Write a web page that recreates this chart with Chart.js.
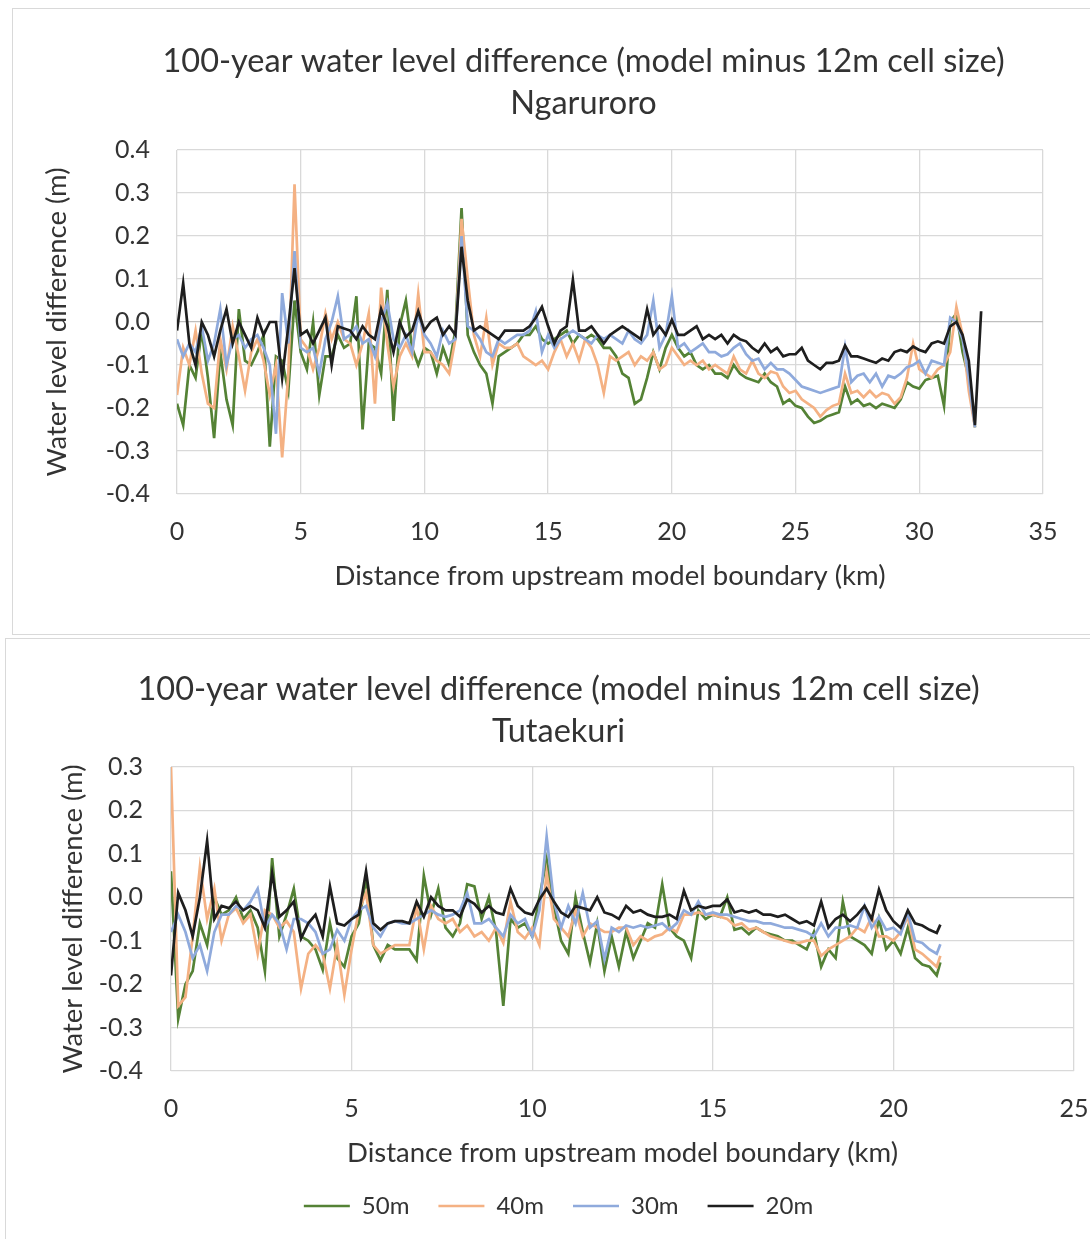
<!DOCTYPE html>
<html>
<head>
<meta charset="UTF-8">
<title>100-year water level difference</title>
<script src="https://cdn.jsdelivr.net/npm/chart.js@4"></script>
<style>
  body {
    margin: 0;
    background: #fff;
    width: 1090px;
    height: 1239px;
    overflow: hidden;
    position: relative;
  }
  .frame {
    position: absolute;
    border: 1px solid #d9d9d9;
    box-sizing: border-box;
  }
  canvas {
    position: absolute;
  }
</style>
</head>
<body>
  <div class="frame" style="left:12px; top:8px; width:1200px; height:627px;"></div>
  <canvas id="ngChart" width="1143" height="624" style="left:12px; top:8px;"></canvas>

  <div class="frame" style="left:5px; top:638px; width:1200px; height:700px;"></div>
  <canvas id="tuChart" width="1107" height="601" style="left:5px; top:638px;"></canvas>

<script>
// Series shared by both charts
const seriesNames = ['50m', '40m', '30m', '20m'];
const seriesColors = ['#548235', '#f4b183', '#8faadc', '#1e1e1e'];

// Ngaruroro - distance (km) and water level difference (m)
const ngDist = [0,0.25,0.5,0.75,1,1.25,1.5,1.75,2,2.25,2.5,2.75,3,3.25,3.5,3.75,4,4.25,4.5,4.75,
  5,5.25,5.5,5.75,6,6.25,6.5,6.75,7,7.25,7.5,7.75,8,8.25,8.5,8.75,9,9.25,9.5,9.75,
  10,10.25,10.5,10.75,11,11.25,11.5,11.75,12,12.25,12.5,12.75,13,13.25,13.5,13.75,14,14.25,14.5,14.75,
  15,15.25,15.5,15.75,16,16.25,16.5,16.75,17,17.25,17.5,17.75,18,18.25,18.5,18.75,19,19.25,19.5,19.75,
  20,20.25,20.5,20.75,21,21.25,21.5,21.75,22,22.25,22.5,22.75,23,23.25,23.5,23.75,24,24.25,24.5,24.75,
  25,25.25,25.5,25.75,26,26.25,26.5,26.75,27,27.25,27.5,27.75,28,28.25,28.5,28.75,29,29.25,29.5,29.75,
  30,30.25,30.5,30.75,31,31.25,31.5,31.75,32,32.25,32.5];

const ng50 = [-0.19,-0.24,-0.10,-0.13,-0.02,-0.13,-0.27,-0.07,-0.18,-0.24,0.03,-0.09,-0.10,-0.07,-0.03,-0.29,
  -0.08,-0.09,-0.16,0.05,-0.07,-0.11,0.0,-0.17,-0.08,-0.08,-0.03,-0.06,-0.05,0.06,-0.25,-0.05,
  -0.06,-0.12,0.075,-0.23,-0.01,0.05,-0.06,-0.10,-0.06,
  -0.07,-0.12,-0.06,-0.10,-0.02,0.265,-0.03,-0.07,-0.10,-0.12,-0.19,-0.08,-0.07,-0.06,-0.05,-0.03,
  -0.03,-0.01,-0.04,-0.05,-0.04,-0.03,-0.02,-0.05,-0.03,-0.04,-0.03,-0.04,-0.06,-0.06,-0.08,-0.12,
  -0.13,-0.19,-0.18,-0.13,-0.07,-0.11,-0.06,-0.03,
  -0.06,-0.08,-0.07,-0.10,-0.11,-0.10,-0.12,-0.12,-0.13,-0.10,-0.12,-0.13,-0.135,-0.14,-0.12,-0.14,
  -0.15,-0.19,-0.18,-0.195,-0.20,-0.22,-0.235,-0.23,-0.22,-0.215,-0.21,-0.15,-0.19,-0.18,-0.195,-0.19,
  -0.20,-0.19,-0.195,-0.20,-0.18,-0.14,-0.15,-0.155,-0.135,-0.13,-0.125,-0.195,0.0,0.02,-0.07,-0.13,
  -0.245,null];

const ng40 = [-0.17,-0.06,-0.10,-0.02,-0.12,-0.19,-0.20,-0.04,-0.11,-0.01,-0.08,-0.16,-0.07,-0.04,-0.09,-0.17,
  -0.10,-0.315,-0.12,0.32,-0.04,-0.06,-0.11,-0.06,0.02,-0.04,0.0,-0.04,-0.05,-0.10,-0.05,0.02,
  -0.19,0.08,-0.05,-0.15,-0.08,-0.05,-0.08,0.065,-0.07,
  -0.07,-0.09,-0.10,-0.12,-0.04,0.24,0.10,-0.03,-0.08,0.01,-0.10,-0.05,-0.06,-0.06,-0.05,-0.08,
  -0.09,-0.10,-0.09,-0.11,-0.07,-0.04,-0.08,-0.05,-0.09,-0.04,-0.06,-0.10,-0.165,-0.08,-0.09,-0.08,
  -0.07,-0.10,-0.08,-0.09,-0.07,-0.11,-0.10,-0.06,
  -0.08,-0.10,-0.09,-0.10,-0.09,-0.11,-0.10,-0.11,-0.12,-0.08,-0.11,-0.12,-0.09,-0.12,-0.13,-0.115,
  -0.12,-0.15,-0.165,-0.16,-0.18,-0.19,-0.20,-0.22,-0.205,-0.195,-0.19,-0.12,-0.165,-0.16,-0.175,-0.16,
  -0.175,-0.165,-0.17,-0.19,-0.175,-0.13,-0.05,-0.11,-0.12,-0.13,-0.11,-0.10,-0.07,0.035,-0.03,-0.16,
  -0.245,null];

const ng30 = [-0.04,-0.08,-0.05,-0.07,-0.01,-0.09,-0.05,0.03,-0.10,-0.04,-0.03,-0.06,-0.04,-0.03,-0.06,-0.10,
  -0.26,0.067,-0.05,0.165,-0.06,-0.07,-0.06,-0.12,-0.04,0.0,0.06,-0.04,-0.03,-0.01,-0.05,-0.04,
  -0.08,0.0,0.045,-0.04,-0.06,-0.03,-0.07,0.02,-0.03,
  -0.05,-0.08,-0.02,-0.05,-0.04,0.20,-0.01,-0.02,-0.04,-0.07,-0.08,-0.04,-0.05,-0.04,-0.03,-0.03,
  -0.02,0.025,-0.07,-0.03,-0.06,-0.04,-0.03,-0.02,-0.03,-0.04,-0.05,-0.03,-0.04,-0.03,-0.04,-0.05,
  -0.02,-0.04,-0.05,-0.03,0.05,-0.06,-0.03,0.06,
  -0.06,-0.05,-0.07,-0.06,-0.05,-0.07,-0.07,-0.08,-0.075,-0.06,-0.05,-0.075,-0.09,-0.085,-0.11,-0.095,
  -0.11,-0.11,-0.12,-0.135,-0.15,-0.155,-0.16,-0.165,-0.16,-0.155,-0.15,-0.057,-0.14,-0.125,-0.12,-0.14,
  -0.12,-0.15,-0.125,-0.13,-0.12,-0.105,-0.10,-0.09,-0.12,-0.09,-0.095,-0.10,0.01,0.0,-0.04,-0.13,
  -0.245,null];

const ng20 = [-0.02,0.09,-0.05,-0.10,0.0,-0.03,-0.08,-0.02,0.03,-0.05,0.0,-0.03,-0.06,0.01,-0.03,0.0,
  0.0,-0.13,-0.01,0.125,-0.03,-0.02,-0.05,-0.02,0.01,-0.10,-0.01,-0.015,-0.02,-0.04,-0.01,-0.03,
  -0.04,0.03,-0.01,-0.07,0.0,-0.035,-0.02,0.025,-0.02,
  0.0,0.01,-0.03,-0.01,-0.03,0.175,0.05,-0.02,-0.01,-0.02,-0.03,-0.04,-0.02,-0.02,-0.02,-0.02,
  -0.01,0.01,0.035,-0.01,-0.05,-0.02,-0.01,0.098,-0.02,-0.02,-0.01,-0.03,-0.05,-0.03,-0.02,-0.01,
  -0.02,-0.03,-0.04,0.03,-0.03,-0.01,-0.03,0.005,
  -0.03,-0.03,-0.02,-0.01,-0.04,-0.03,-0.04,-0.03,-0.05,-0.03,-0.04,-0.045,-0.06,-0.07,-0.05,-0.07,
  -0.06,-0.08,-0.075,-0.075,-0.06,-0.09,-0.10,-0.11,-0.095,-0.095,-0.09,-0.055,-0.08,-0.08,-0.085,-0.09,
  -0.095,-0.085,-0.09,-0.07,-0.065,-0.07,-0.057,-0.065,-0.07,-0.05,-0.045,-0.05,-0.01,0.0,-0.03,-0.09,
  -0.24,0.025];

// Tutaekuri - distance (km) and water level difference (m)
const tuDist = [0,0.2,0.4,0.6,0.8,1,1.2,1.4,1.6,1.8,2,2.2,2.4,2.6,2.8,3,3.2,3.4,3.6,3.8,
  4,4.2,4.4,4.6,4.8,5,5.2,5.4,5.6,5.8,6,6.2,6.4,6.6,6.8,7,7.2,7.4,7.6,7.8,
  8,8.2,8.4,8.6,8.8,9,9.2,9.4,9.6,9.8,10,10.2,10.4,10.6,10.8,11,11.2,11.4,11.6,11.8,
  12,12.2,12.4,12.6,12.8,13,13.2,13.4,13.6,13.8,14,14.2,14.4,14.6,14.8,15,15.2,15.4,15.6,15.8,
  16,16.2,16.4,16.6,16.8,17,17.2,17.4,17.6,17.8,18,18.2,18.4,18.6,18.8,19,19.2,19.4,19.6,19.8,
  20,20.2,20.4,20.6,20.8,21,21.2,21.3];

const tu50 = [0.06,-0.28,-0.20,-0.17,-0.06,-0.11,0.0,-0.04,-0.03,0.0,-0.05,-0.03,-0.07,-0.17,0.09,
  -0.09,-0.04,0.02,-0.09,-0.10,-0.12,-0.167,-0.06,-0.14,-0.16,-0.09,-0.06,0.045,-0.11,-0.145,
  -0.11,-0.12,-0.12,-0.12,-0.145,0.05,-0.04,0.02,-0.07,-0.09,-0.06,0.03,0.025,-0.05,0.0,
  -0.08,-0.25,-0.05,-0.07,-0.06,-0.09,0.0,0.087,-0.02,-0.10,-0.13,0.0,-0.08,-0.15,-0.06,
  -0.17,-0.09,-0.16,-0.08,-0.14,-0.10,-0.06,-0.07,0.03,-0.07,-0.09,-0.10,-0.14,-0.03,-0.05,
  -0.04,-0.045,0.0,-0.075,-0.07,-0.085,-0.07,-0.08,-0.085,-0.09,-0.10,-0.10,-0.11,-0.12,-0.08,
  -0.16,-0.12,-0.14,-0.01,-0.09,-0.10,-0.11,-0.13,-0.05,-0.12,-0.10,-0.13,-0.07,-0.14,-0.155,
  -0.16,-0.18,-0.15];

const tu40 = [0.30,-0.25,-0.23,-0.09,0.07,-0.05,0.02,-0.10,-0.04,-0.025,-0.06,-0.04,-0.13,-0.03,-0.04,
  -0.07,-0.055,-0.08,-0.21,-0.13,-0.11,-0.13,-0.21,-0.11,-0.225,-0.12,-0.03,0.01,-0.11,-0.13,
  -0.12,-0.11,-0.11,-0.11,-0.02,-0.12,-0.02,-0.05,-0.06,-0.05,-0.08,-0.065,-0.09,-0.08,-0.10,
  -0.07,-0.105,-0.01,-0.08,-0.095,-0.07,-0.11,0.056,-0.05,-0.07,-0.09,-0.03,-0.09,-0.06,-0.07,
  -0.08,-0.08,-0.07,-0.07,-0.11,-0.09,-0.10,-0.09,-0.085,-0.07,-0.08,-0.04,-0.04,-0.035,-0.04,
  -0.04,-0.045,-0.05,-0.065,-0.06,-0.075,-0.07,-0.08,-0.09,-0.095,-0.10,-0.105,-0.105,-0.10,-0.10,
  -0.135,-0.12,-0.11,-0.10,-0.09,-0.07,-0.08,-0.045,-0.09,-0.09,-0.10,-0.08,-0.045,-0.12,-0.13,
  -0.145,-0.16,-0.135];

const tu30 = [-0.08,-0.04,-0.08,-0.14,-0.11,-0.17,-0.08,-0.04,-0.04,-0.02,-0.03,-0.01,0.02,-0.07,-0.04,
  -0.06,-0.12,-0.05,-0.05,-0.06,-0.08,-0.13,-0.12,-0.075,-0.10,-0.05,-0.03,-0.02,-0.07,-0.09,
  -0.06,-0.055,-0.06,-0.06,-0.05,-0.04,-0.03,-0.04,-0.045,-0.04,-0.03,0.01,-0.06,-0.06,-0.05,
  -0.07,-0.09,-0.04,-0.06,-0.05,-0.09,-0.03,0.14,-0.01,-0.07,-0.02,-0.06,0.01,-0.07,-0.055,
  -0.143,-0.07,-0.08,-0.065,-0.07,-0.065,-0.07,-0.065,-0.06,-0.075,-0.06,-0.03,-0.04,-0.01,-0.04,
  -0.035,-0.04,-0.04,-0.045,-0.05,-0.055,-0.055,-0.06,-0.06,-0.065,-0.07,-0.07,-0.075,-0.08,-0.09,
  -0.06,-0.09,-0.07,-0.07,-0.065,-0.07,-0.02,-0.07,-0.045,-0.075,-0.07,-0.085,-0.035,-0.10,-0.105,
  -0.12,-0.13,-0.108];

const tu20 = [-0.18,0.01,-0.03,-0.09,0.0,0.13,-0.05,-0.02,-0.025,-0.01,-0.03,-0.02,-0.03,-0.07,0.055,
  -0.045,-0.03,-0.01,-0.095,-0.06,-0.04,-0.09,0.025,-0.06,-0.065,-0.05,-0.04,0.06,-0.06,-0.075,
  -0.06,-0.055,-0.055,-0.06,-0.01,-0.045,0.0,-0.02,-0.03,-0.03,-0.045,-0.005,-0.015,-0.035,-0.02,
  -0.035,-0.04,0.02,-0.02,-0.035,-0.04,-0.005,0.02,-0.01,-0.035,-0.045,-0.02,-0.025,-0.03,0.0,
  -0.035,-0.04,-0.05,-0.02,-0.035,-0.03,-0.04,-0.045,-0.045,-0.04,-0.05,0.015,-0.03,-0.02,-0.025,
  -0.02,-0.02,-0.005,-0.035,-0.03,-0.035,-0.03,-0.04,-0.04,-0.045,-0.04,-0.05,-0.06,-0.055,-0.065,
  -0.01,-0.07,-0.05,-0.04,-0.055,-0.04,-0.02,-0.05,0.018,-0.03,-0.055,-0.07,-0.03,-0.06,-0.065,
  -0.075,-0.082,-0.063];

const FONT = 'Lato, "Noto Sans", sans-serif';
const TEXT = '#333333';
const GRID = '#d9d9d9';
const ZERO_LINE = '#bfbfbf';

function tickLabel(v) {
  return Math.abs(v) < 1e-9 ? '0.0' : v.toFixed(1);
}

// Builds one of the two panels; o holds the layout numbers for that panel
function buildChart(canvasId, o) {
  const datasets = o.series.map((vals, i) => ({
    label: seriesNames[i],
    data: o.dist.map((x, j) => ({ x: x, y: vals[j] })),
    borderColor: seriesColors[i],
    backgroundColor: seriesColors[i],
    borderWidth: 2.7,
    pointRadius: 0,
    pointHoverRadius: 0,
    tension: 0,
    order: seriesNames.length - i   // 20m drawn on top
  }));

  return new Chart(document.getElementById(canvasId), {
    type: 'line',
    data: { datasets: datasets },
    options: {
      responsive: false,
      animation: false,
      devicePixelRatio: 1,
      layout: { padding: { left: 0, right: 0, top: 0, bottom: o.padBottom } },
      plugins: {
        title: {
          display: true,
          text: o.title,
          color: TEXT,
          font: { family: FONT, size: 32.5, weight: 'normal', lineHeight: 1.292 },
          padding: { top: o.titleTop, bottom: o.titleBottom }
        },
        legend: o.legend ? {
          display: true,
          position: 'bottom',
          labels: {
            usePointStyle: true,
            pointStyle: 'line',
            pointStyleWidth: 46,
            padding: 29,
            color: TEXT,
            font: { family: FONT, size: 24 },
            sort: (a, b) => a.datasetIndex - b.datasetIndex
          }
        } : { display: false },
        tooltip: { enabled: false }
      },
      scales: {
        x: {
          type: 'linear',
          min: 0,
          max: o.xMax,
          ticks: { stepSize: 5, color: TEXT, font: { family: FONT, size: 25 }, padding: 23 },
          grid: { color: GRID, lineWidth: 1.3, drawTicks: false },
          border: { display: false },
          title: {
            display: true,
            text: 'Distance from upstream model boundary (km)',
            color: TEXT,
            font: { family: FONT, size: 27.5, lineHeight: o.xTitleLine },
            padding: { top: 0, bottom: o.xTitlePad }
          },
          afterFit: s => { s.height = o.xAxisHeight; }
        },
        y: {
          min: -0.4,
          max: o.yMax,
          ticks: { stepSize: 0.1, color: TEXT, font: { family: FONT, size: 25 }, padding: o.yTickPad, callback: tickLabel },
          grid: {
            color: c => Math.abs(c.tick.value) < 1e-9 ? ZERO_LINE : GRID,
            lineWidth: 1.3,
            drawTicks: false
          },
          border: { display: false },
          title: {
            display: true,
            text: 'Water level difference (m)',
            color: TEXT,
            font: { family: FONT, size: 27.5 },
            padding: { top: o.yTitlePad, bottom: 0 }
          },
          afterFit: s => { s.width = o.yAxisWidth; }
        },
        // empty right-hand box so the plot ends where the original does
        gap: {
          axis: 'y',
          type: 'linear',
          position: 'right',
          display: true,
          ticks: { display: false },
          grid: { display: false },
          border: { display: false },
          afterFit: s => { s.width = o.rightGap; }
        }
      }
    }
  });
}

buildChart('ngChart', {
  title: ['100-year water level difference (model minus 12m cell size)', 'Ngaruroro'],
  dist: ngDist,
  series: [ng50, ng40, ng30, ng20],
  xMax: 35,
  yMax: 0.4,
  legend: false,
  padBottom: 0,
  titleTop: 33,
  titleBottom: 25,
  xAxisHeight: 138,
  xTitleLine: 1.2,
  xTitlePad: 39.5,
  yAxisWidth: 165,
  yTickPad: 27,
  yTitlePad: 28.5,
  rightGap: 112
});

buildChart('tuChart', {
  title: ['100-year water level difference (model minus 12m cell size)', 'Tutaekuri'],
  dist: tuDist,
  series: [tu50, tu40, tu30, tu20],
  xMax: 25,
  yMax: 0.3,
  legend: true,
  padBottom: 11,
  titleTop: 31,
  titleBottom: 14,
  xAxisHeight: 94,
  xTitleLine: 1.0,
  xTitlePad: -1.75,
  yAxisWidth: 166,
  yTickPad: 28,
  yTitlePad: 51.5,
  rightGap: 38
});
</script>
</body>
</html>
